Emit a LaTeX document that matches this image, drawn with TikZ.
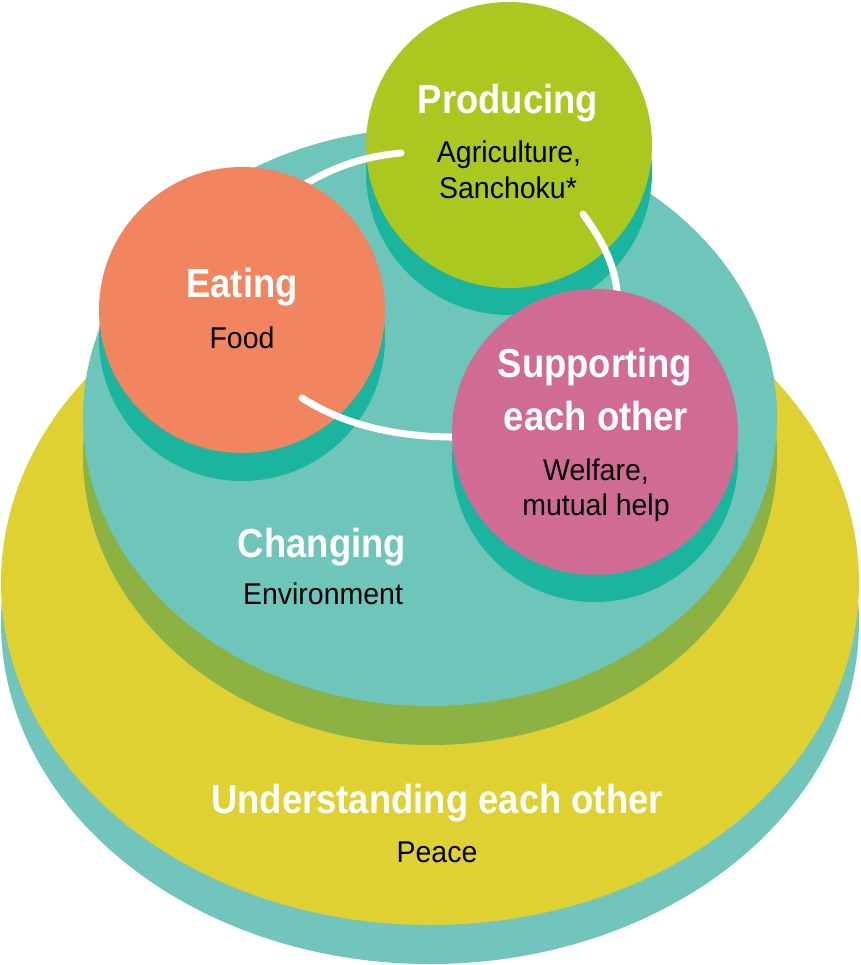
\documentclass[tikz,border=0pt]{standalone}
\usepackage{fontspec}
\setmainfont{Liberation Sans}[FakeStretch=0.95]
\newfontfamily\headfont{Liberation Sans}[FakeStretch=0.9]
\definecolor{yel}{HTML}{DFD131}
\definecolor{tealshadow}{HTML}{72C5BD}
\definecolor{tealmain}{HTML}{6EC5BA}
\definecolor{olive}{HTML}{8BB243}
\definecolor{dshadow}{HTML}{1BB59F}
\definecolor{grn}{HTML}{AAC81F}
\definecolor{orng}{HTML}{F0855F}
\definecolor{pnk}{HTML}{D06B93}
\begin{document}
\begin{tikzpicture}[x=1pt,y=-1pt,
  head/.style={text=white, font=\headfont\fontsize{40.5}{48}\selectfont\bfseries, anchor=base, inner sep=0pt},
  sub/.style={text=black, font=\fontsize{30}{36}\selectfont, anchor=base, inner sep=0pt},
  link/.style={white, line width=7pt, line cap=round},
  disc/.style={circle, inner sep=0pt, minimum size=286pt}]
\useasboundingbox (0,0) rectangle (860,965);
% outer layer
\fill[tealshadow] (430,622) ellipse [x radius=429pt, y radius=342pt];
\fill[yel] (430,583) ellipse [x radius=429pt, y radius=342pt];
% middle layer
\fill[olive] (430,456) ellipse [x radius=347pt, y radius=289pt];
\fill[tealmain] (430,417) ellipse [x radius=347pt, y radius=289pt];
% producing
\fill[dshadow] (509,172) circle [radius=143pt];
\node[disc, fill=grn] (prod) at (509,145) {};
% eating shadow
\fill[dshadow] (242,338) circle [radius=143pt];
% top link (under eating)
\coordinate (l1a) at (401,153);
\coordinate (l1b) at (292,192);
\draw[link] (l1a) .. controls (360,157) and (330,168) .. (l1b);
\node[disc, fill=orng] (eat) at (242,310) {};
% supporting shadow
\fill[dshadow] (595,459) circle [radius=143pt];
% right and bottom links (under supporting)
\coordinate (l2a) at (583,214);
\coordinate (l2b) at (618,302);
\draw[link] (l2a) .. controls (600,238) and (616,262) .. (l2b);
\coordinate (l3a) at (302,398);
\coordinate (l3b) at (462,437);
\draw[link] (l3a) .. controls (340,422) and (390,438) .. (l3b);
\node[disc, fill=pnk] (supp) at (595,432) {};
% texts
\node[head] (tprod) at (508,114) {Producing};
\node[sub] (tagri) at (509,163) {Agriculture,};
\node[sub] (tsan) at (508,199) {Sanchoku*};
\node[head] (teat) at (242,298) {Eating};
\node[sub] (tfood) at (242,348) {Food};
\node[head] (tsup1) at (595,377) {Supporting};
\node[head] (tsup2) at (596,430) {each other};
\node[sub] (twel) at (596,480) {Welfare,};
\node[sub] (tmut) at (596,515) {mutual help};
\node[head] (tchg) at (322,557) {Changing};
\node[sub] (tenv) at (323,604) {Environment};
\node[head] (tund) at (437,813) {Understanding each other};
\node[sub] (tpea) at (437,862) {Peace};
\end{tikzpicture}
\end{document}
